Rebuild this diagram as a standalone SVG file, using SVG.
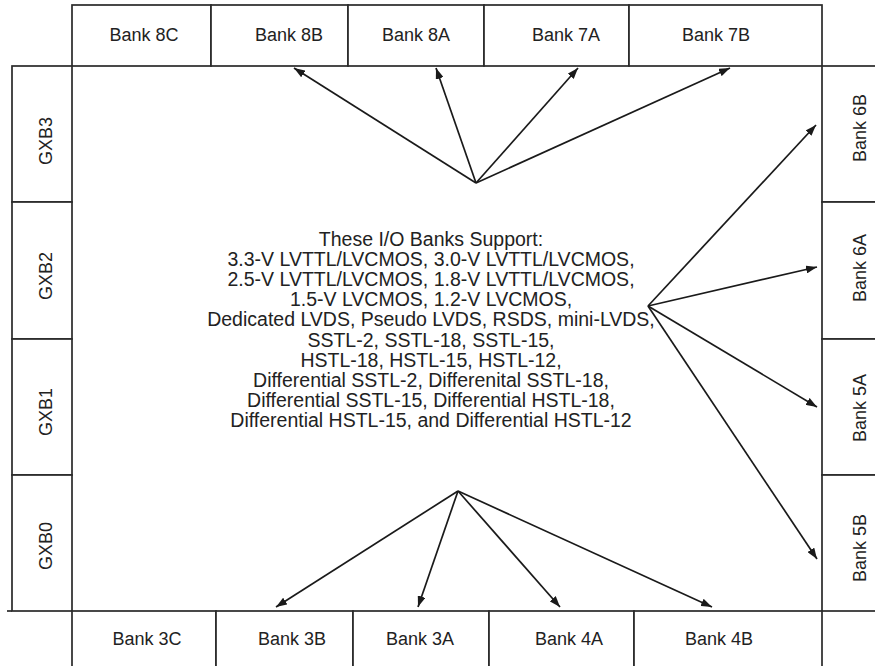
<svg xmlns="http://www.w3.org/2000/svg" width="875" height="666" viewBox="0 0 875 666">
<style>
.box{fill:#fff;stroke:#2a2a2a;stroke-width:1.7}
.lbl{font-family:"Liberation Sans",Arial,sans-serif;font-size:18px;fill:#222;text-anchor:middle}
.ctr{font-family:"Liberation Sans",Arial,sans-serif;font-size:19.5px;fill:#222;text-anchor:middle}
.conn{stroke:#1a1a1a;stroke-width:1.7;fill:none;marker-end:url(#arr)}
</style>
<defs>
<marker id="arr" markerUnits="userSpaceOnUse" markerWidth="11" markerHeight="8" refX="11" refY="4" orient="auto">
<path d="M0,0 L11,4 L0,8 z" fill="#1a1a1a"/>
</marker>
</defs>
<rect width="875" height="666" fill="#fff"/>
<g id="bank8C"><rect class="box" x="72" y="5" width="139" height="61"/><text class="lbl" x="144" y="41">Bank 8C</text></g>
<g id="bank8B"><rect class="box" x="211" y="5" width="137" height="61"/><text class="lbl" x="289" y="41">Bank 8B</text></g>
<g id="bank8A"><rect class="box" x="348" y="5" width="136" height="61"/><text class="lbl" x="416" y="41">Bank 8A</text></g>
<g id="bank7A"><rect class="box" x="484" y="5" width="145" height="61"/><text class="lbl" x="566" y="41">Bank 7A</text></g>
<g id="bank7B"><rect class="box" x="629" y="5" width="193" height="61"/><text class="lbl" x="716" y="41">Bank 7B</text></g>
<g id="gxb3"><rect class="box" x="12" y="66" width="60" height="136"/><text class="lbl" x="52" y="141" transform="rotate(-90 52 141)">GXB3</text></g>
<g id="gxb2"><rect class="box" x="12" y="202" width="60" height="137"/><text class="lbl" x="52" y="276" transform="rotate(-90 52 276)">GXB2</text></g>
<g id="gxb1"><rect class="box" x="12" y="339" width="60" height="136"/><text class="lbl" x="52" y="412" transform="rotate(-90 52 412)">GXB1</text></g>
<g id="gxb0"><rect class="box" x="12" y="475" width="60" height="136"/><text class="lbl" x="52" y="546" transform="rotate(-90 52 546)">GXB0</text></g>
<g id="bank6B"><rect class="box" x="822" y="66" width="60" height="136"/><text class="lbl" x="866" y="128" transform="rotate(-90 866 128)">Bank 6B</text></g>
<g id="bank6A"><rect class="box" x="822" y="202" width="60" height="137"/><text class="lbl" x="866" y="268" transform="rotate(-90 866 268)">Bank 6A</text></g>
<g id="bank5A"><rect class="box" x="822" y="339" width="60" height="136"/><text class="lbl" x="866" y="408" transform="rotate(-90 866 408)">Bank 5A</text></g>
<g id="bank5B"><rect class="box" x="822" y="475" width="60" height="136"/><text class="lbl" x="866" y="548" transform="rotate(-90 866 548)">Bank 5B</text></g>
<g id="bank3C"><rect class="box" x="72" y="611" width="144" height="62"/><text class="lbl" x="147" y="645">Bank 3C</text></g>
<g id="bank3B"><rect class="box" x="216" y="611" width="137" height="62"/><text class="lbl" x="292" y="645">Bank 3B</text></g>
<g id="bank3A"><rect class="box" x="353" y="611" width="136" height="62"/><text class="lbl" x="420" y="645">Bank 3A</text></g>
<g id="bank4A"><rect class="box" x="489" y="611" width="145" height="62"/><text class="lbl" x="569" y="645">Bank 4A</text></g>
<g id="bank4B"><rect class="box" x="634" y="611" width="188" height="62"/><text class="lbl" x="719" y="645">Bank 4B</text></g>
<line x1="7" y1="611" x2="12" y2="611" stroke="#2a2a2a" stroke-width="1.7"/>
<g id="support">
<text class="ctr" x="431" y="246">These I/O Banks Support:</text>
<text class="ctr" x="431" y="266">3.3-V LVTTL/LVCMOS, 3.0-V LVTTL/LVCMOS,</text>
<text class="ctr" x="431" y="286">2.5-V LVTTL/LVCMOS, 1.8-V LVTTL/LVCMOS,</text>
<text class="ctr" x="431" y="306">1.5-V LVCMOS, 1.2-V LVCMOS,</text>
<text class="ctr" x="431" y="326">Dedicated LVDS, Pseudo LVDS, RSDS, mini-LVDS,</text>
<text class="ctr" x="431" y="347">SSTL-2, SSTL-18, SSTL-15,</text>
<text class="ctr" x="431" y="367">HSTL-18, HSTL-15, HSTL-12,</text>
<text class="ctr" x="431" y="387">Differential SSTL-2, Differenital SSTL-18,</text>
<text class="ctr" x="431" y="407">Differential SSTL-15, Differential HSTL-18,</text>
<text class="ctr" x="431" y="427">Differential HSTL-15, and Differential HSTL-12</text>
</g>
<g id="connectors">
<line class="conn" x1="476" y1="183" x2="294" y2="68"/>
<line class="conn" x1="476" y1="183" x2="436" y2="68"/>
<line class="conn" x1="476" y1="183" x2="578" y2="68"/>
<line class="conn" x1="476" y1="183" x2="730" y2="68"/>
<line class="conn" x1="648" y1="306" x2="816" y2="125"/>
<line class="conn" x1="648" y1="306" x2="817" y2="267"/>
<line class="conn" x1="648" y1="306" x2="817" y2="407"/>
<line class="conn" x1="648" y1="306" x2="817" y2="559"/>
<line class="conn" x1="458" y1="491" x2="276" y2="607"/>
<line class="conn" x1="458" y1="491" x2="418" y2="607"/>
<line class="conn" x1="458" y1="491" x2="560" y2="607"/>
<line class="conn" x1="458" y1="491" x2="712" y2="607"/>
</g>
</svg>
